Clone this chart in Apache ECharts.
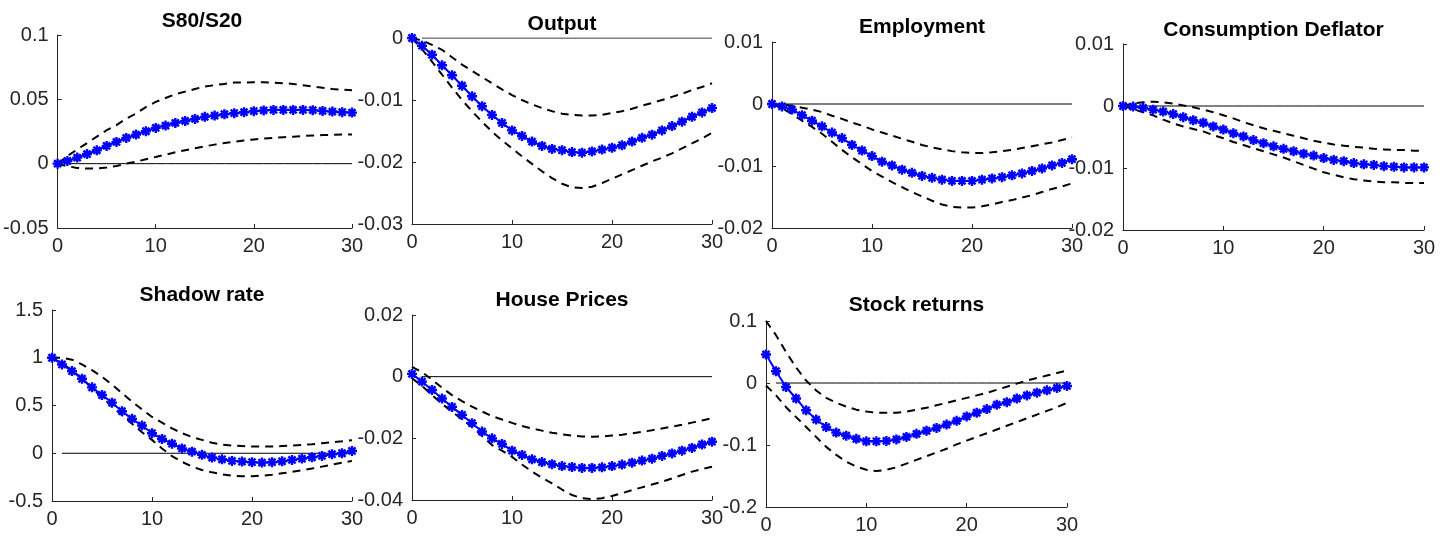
<!DOCTYPE html>
<html>
<head>
<meta charset="utf-8">
<title>Impulse responses</title>
<script src="https://cdn.jsdelivr.net/npm/echarts@6/dist/echarts.min.js"></script>
<style>
  html, body { margin: 0; padding: 0; background: #fff; }
  #chart { width: 1444px; height: 539px; }
</style>
</head>
<body>
<div id="chart"></div>
<script>
// Horizons (periods after the shock)
const horizons = [0,1,2,3,4,5,6,7,8,9,10,11,12,13,14,15,16,17,18,19,20,21,22,23,24,25,26,27,28,29,30];

// S80/S20
const s80Mid = [0,0.0021,0.0047,0.0075,0.0104,0.0138,0.0169,0.0200,0.0226,0.0252,0.0278,0.0296,0.0317,0.0332,0.0348,0.0364,0.0374,0.0384,0.0392,0.0400,0.0408,0.0414,0.0418,0.0418,0.0418,0.0418,0.0416,0.0410,0.0405,0.0400,0.0397];
const s80Hi  = [0,0.006,0.011,0.016,0.021,0.026,0.030,0.035,0.039,0.044,0.048,0.051,0.054,0.056,0.058,0.060,0.061,0.062,0.063,0.063,0.0633,0.0633,0.063,0.0625,0.062,0.061,0.060,0.059,0.058,0.0575,0.057];
const s80Lo  = [0,-0.002,-0.0033,-0.0038,-0.0037,-0.003,-0.0018,0,0.0015,0.0035,0.0052,0.007,0.0088,0.0105,0.012,0.0135,0.0148,0.016,0.017,0.018,0.0188,0.0195,0.020,0.0206,0.021,0.0215,0.0219,0.0222,0.0224,0.0226,0.0227];

// Output
const outMid = [0,-0.00124,-0.0027,-0.0044,-0.0060,-0.0077,-0.0094,-0.0110,-0.0124,-0.0137,-0.0149,-0.0158,-0.0167,-0.0174,-0.0179,-0.0181,-0.0184,-0.0185,-0.0183,-0.0180,-0.0177,-0.0173,-0.0167,-0.0161,-0.0156,-0.0149,-0.0142,-0.0135,-0.0127,-0.0120,-0.0113];
const outHi  = [0,-0.0004,-0.0011,-0.0019,-0.0031,-0.0043,-0.0053,-0.0063,-0.0073,-0.0083,-0.0092,-0.0100,-0.0107,-0.0113,-0.0118,-0.0122,-0.0124,-0.0125,-0.0125,-0.0124,-0.0121,-0.0118,-0.0114,-0.0109,-0.0105,-0.0100,-0.0095,-0.0090,-0.0084,-0.0079,-0.0073];
const outLo  = [0,-0.0018,-0.0038,-0.0059,-0.0080,-0.0100,-0.0118,-0.0135,-0.0151,-0.0165,-0.0178,-0.0191,-0.0203,-0.0215,-0.0226,-0.0235,-0.0241,-0.0242,-0.0240,-0.0234,-0.0227,-0.0220,-0.0213,-0.0206,-0.0199,-0.0193,-0.0186,-0.0178,-0.0170,-0.0162,-0.0153];

// Employment
const empMid = [0,-0.0004,-0.0009,-0.0018,-0.0027,-0.0036,-0.0046,-0.0055,-0.0066,-0.0075,-0.0084,-0.0093,-0.0099,-0.0106,-0.0111,-0.0116,-0.0119,-0.0122,-0.0124,-0.0124,-0.0124,-0.0122,-0.0120,-0.0118,-0.0115,-0.0112,-0.0108,-0.0104,-0.0099,-0.0095,-0.0089];
const empHi  = [0,-0.0001,-0.0003,-0.0006,-0.0009,-0.0013,-0.0019,-0.0024,-0.0030,-0.0035,-0.0041,-0.0046,-0.0051,-0.0056,-0.0061,-0.0066,-0.0070,-0.0073,-0.0076,-0.0078,-0.0079,-0.0079,-0.0078,-0.0076,-0.0074,-0.0071,-0.0068,-0.0065,-0.0062,-0.0058,-0.0054];
const empLo  = [0,-0.0007,-0.0016,-0.0027,-0.0037,-0.0048,-0.0061,-0.0074,-0.0086,-0.0097,-0.0108,-0.0117,-0.0126,-0.0134,-0.0142,-0.0149,-0.0156,-0.0162,-0.0166,-0.0167,-0.0167,-0.0165,-0.0162,-0.0158,-0.0155,-0.0151,-0.0147,-0.0142,-0.0137,-0.0133,-0.0128];

// Consumption Deflator
const cpiMid = [0,-0.0001,-0.0003,-0.0006,-0.0009,-0.0013,-0.0018,-0.0023,-0.0027,-0.0033,-0.0038,-0.0044,-0.0049,-0.0055,-0.0060,-0.0065,-0.0069,-0.0073,-0.0077,-0.0080,-0.0084,-0.0087,-0.0089,-0.0092,-0.0094,-0.0095,-0.0097,-0.0098,-0.0099,-0.0099,-0.0099];
const cpiHi  = [0,0.0004,0.0006,0.0007,0.0006,0.0004,0.0001,-0.0002,-0.0006,-0.0010,-0.0015,-0.0020,-0.0026,-0.0031,-0.0036,-0.0040,-0.0044,-0.0048,-0.0052,-0.0056,-0.0059,-0.0062,-0.0064,-0.0066,-0.0067,-0.0069,-0.0070,-0.0071,-0.0071,-0.0072,-0.0072];
const cpiLo  = [0,-0.0005,-0.0010,-0.0015,-0.0022,-0.0028,-0.0033,-0.0037,-0.0041,-0.0047,-0.0052,-0.0058,-0.0063,-0.0068,-0.0073,-0.0078,-0.0083,-0.0089,-0.0095,-0.0101,-0.0107,-0.0111,-0.0115,-0.0118,-0.0120,-0.0122,-0.0123,-0.0123,-0.0124,-0.0124,-0.0124];

// Shadow rate
const srMid = [1.0,0.93,0.86,0.78,0.69,0.61,0.53,0.44,0.36,0.29,0.21,0.15,0.10,0.05,0.017,-0.017,-0.045,-0.063,-0.080,-0.087,-0.094,-0.098,-0.094,-0.084,-0.070,-0.056,-0.042,-0.028,-0.010,0.0,0.024];
const srHi  = [1.0,1.0,0.98,0.93,0.87,0.80,0.72,0.63,0.54,0.46,0.38,0.32,0.26,0.21,0.17,0.14,0.11,0.09,0.08,0.075,0.07,0.07,0.07,0.075,0.08,0.087,0.095,0.105,0.115,0.125,0.136];
const srLo  = [1.0,0.94,0.87,0.78,0.68,0.585,0.49,0.40,0.31,0.22,0.14,0.05,-0.03,-0.09,-0.14,-0.175,-0.20,-0.22,-0.235,-0.24,-0.24,-0.235,-0.225,-0.21,-0.195,-0.178,-0.16,-0.14,-0.12,-0.10,-0.08];

// House Prices
const hpMid = [0.0009,-0.0016,-0.0043,-0.0071,-0.0098,-0.0124,-0.0151,-0.0178,-0.0200,-0.0218,-0.0240,-0.0254,-0.0268,-0.0277,-0.0284,-0.0290,-0.0293,-0.0296,-0.0296,-0.0294,-0.0290,-0.0285,-0.0279,-0.0272,-0.0266,-0.0257,-0.0249,-0.0240,-0.0231,-0.0220,-0.0211];
const hpHi  = [0.0032,0.0015,-0.0010,-0.0036,-0.0060,-0.0079,-0.0097,-0.0113,-0.0128,-0.0139,-0.0150,-0.0160,-0.0168,-0.0175,-0.0182,-0.0187,-0.0191,-0.0194,-0.0195,-0.0194,-0.0191,-0.0188,-0.0184,-0.0179,-0.0174,-0.0168,-0.0162,-0.0156,-0.0149,-0.0142,-0.0135];
const hpLo  = [-0.0005,-0.0030,-0.0060,-0.0088,-0.0114,-0.0138,-0.0162,-0.0192,-0.0222,-0.0240,-0.0260,-0.0285,-0.0308,-0.0328,-0.0346,-0.0366,-0.0384,-0.0394,-0.0397,-0.0394,-0.0387,-0.0378,-0.0368,-0.0359,-0.0350,-0.0341,-0.0330,-0.0319,-0.0308,-0.0300,-0.0292];

// Stock returns
const stMid = [0.046,0.019,-0.0065,-0.025,-0.044,-0.059,-0.071,-0.080,-0.085,-0.090,-0.094,-0.094,-0.0935,-0.091,-0.087,-0.082,-0.077,-0.0725,-0.067,-0.061,-0.054,-0.048,-0.042,-0.035,-0.031,-0.025,-0.020,-0.0156,-0.0118,-0.008,-0.0048];
const stHi  = [0.10,0.077,0.050,0.025,0.004,-0.012,-0.024,-0.032,-0.038,-0.043,-0.046,-0.048,-0.048,-0.048,-0.046,-0.043,-0.040,-0.036,-0.032,-0.028,-0.024,-0.020,-0.016,-0.011,-0.006,-0.001,0.004,0.008,0.012,0.016,0.020];
const stLo  = [-0.004,-0.020,-0.039,-0.055,-0.071,-0.087,-0.103,-0.116,-0.127,-0.135,-0.140,-0.142,-0.140,-0.136,-0.130,-0.124,-0.118,-0.112,-0.106,-0.099,-0.093,-0.087,-0.081,-0.075,-0.069,-0.063,-0.057,-0.051,-0.045,-0.039,-0.032];

// Panel titles and y-axis ranges
const titles = ['S80/S20', 'Output', 'Employment', 'Consumption Deflator', 'Shadow rate', 'House Prices', 'Stock returns'];
const yMin  = [-0.05, -0.03, -0.02, -0.02, -0.5, -0.04, -0.2];
const yMax  = [0.1, 0, 0.01, 0.01, 1.5, 0.02, 0.1];
const yStep = [0.05, 0.01, 0.01, 0.01, 0.5, 0.02, 0.1];
const xTicks = [0, 10, 20, 30];

const panels = [
  [s80Mid, s80Lo, s80Hi],
  [outMid, outLo, outHi],
  [empMid, empLo, empHi],
  [cpiMid, cpiLo, cpiHi],
  [srMid, srLo, srHi],
  [hpMid, hpLo, hpHi],
  [stMid, stLo, stHi]
];

// Plot-box placement of each subplot [left, top, width, height]
const boxes = [
  [52, 35, 300, 193],
  [412, 38, 300, 186],
  [772, 42, 300, 186],
  [1123, 44, 301, 186],
  [52, 310, 300, 191],
  [412, 315, 300, 185],
  [766, 321, 301, 186]
];
const titleTops = [11, 14, 16.5, 19.5, 285, 289.5, 294.5];

const axisColor = '#262626';
const fontFamily = '"Liberation Sans", Arial, Helvetica, sans-serif';
const asterisk = 'path://M0,5L10,5M5,0L5,10M1.46,1.46L8.54,8.54M1.46,8.54L8.54,1.46';

const fmt = v => String(parseFloat(Number(v).toFixed(6)));
const pairs = arr => horizons.map((h, i) => [h, arr[i]]);

const grid = [], xAxis = [], yAxis = [], series = [], title = [];

boxes.forEach((b, k) => {
  grid.push({ left: b[0], top: b[1], width: b[2], height: b[3], containLabel: false });
  title.push({
    text: titles[k],
    left: b[0] + b[2] / 2,
    top: titleTops[k],
    padding: 0,
    textAlign: 'center',
    textStyle: { fontFamily, fontSize: 21, fontWeight: 'bold', color: '#000' }
  });
  xAxis.push({
    type: 'value', gridIndex: k, min: 0, max: 30, interval: 10,
    axisLine: { onZero: false, lineStyle: { color: axisColor, width: 1 } },
    axisTick: { inside: true, length: 4, lineStyle: { color: axisColor } },
    axisLabel: { margin: 8, fontFamily, fontSize: 20, color: axisColor,
      customValues: xTicks, formatter: fmt },
    splitLine: { show: false }
  });
  yAxis.push({
    type: 'value', gridIndex: k, min: yMin[k], max: yMax[k], interval: yStep[k],
    axisLine: { show: true, onZero: false, lineStyle: { color: axisColor, width: 1 } },
    axisTick: { show: true, inside: true, length: 4, lineStyle: { color: axisColor } },
    axisLabel: { margin: 9, fontFamily, fontSize: 20, color: axisColor, formatter: fmt },
    splitLine: { show: false }
  });

  const [mid, lo, hi] = panels[k];
  // zero reference line
  series.push({
    type: 'line', xAxisIndex: k, yAxisIndex: k, silent: true,
    data: horizons.slice(1).map(h => [h, 0]),
    symbol: 'none', lineStyle: { color: '#000', width: 1 }, z: 1
  });
  // confidence bands
  [hi, lo].forEach(band => {
    series.push({
      type: 'line', xAxisIndex: k, yAxisIndex: k, silent: true,
      data: pairs(band), symbol: 'none',
      lineStyle: { color: '#000', width: 2, type: [8, 6] }, z: 2
    });
  });
  // point estimate
  series.push({
    type: 'line', xAxisIndex: k, yAxisIndex: k, silent: true,
    data: pairs(mid),
    symbol: asterisk, symbolSize: 10,
    itemStyle: { color: '#0000ff', borderColor: '#0000ff', borderWidth: 2.4 },
    lineStyle: { color: '#0000ff', width: 2 }, z: 3
  });
});

const chart = echarts.init(document.getElementById('chart'), null, { renderer: 'canvas' });
chart.setOption({
  animation: false,
  backgroundColor: '#fff',
  title, grid, xAxis, yAxis, series
});
</script>
</body>
</html>
